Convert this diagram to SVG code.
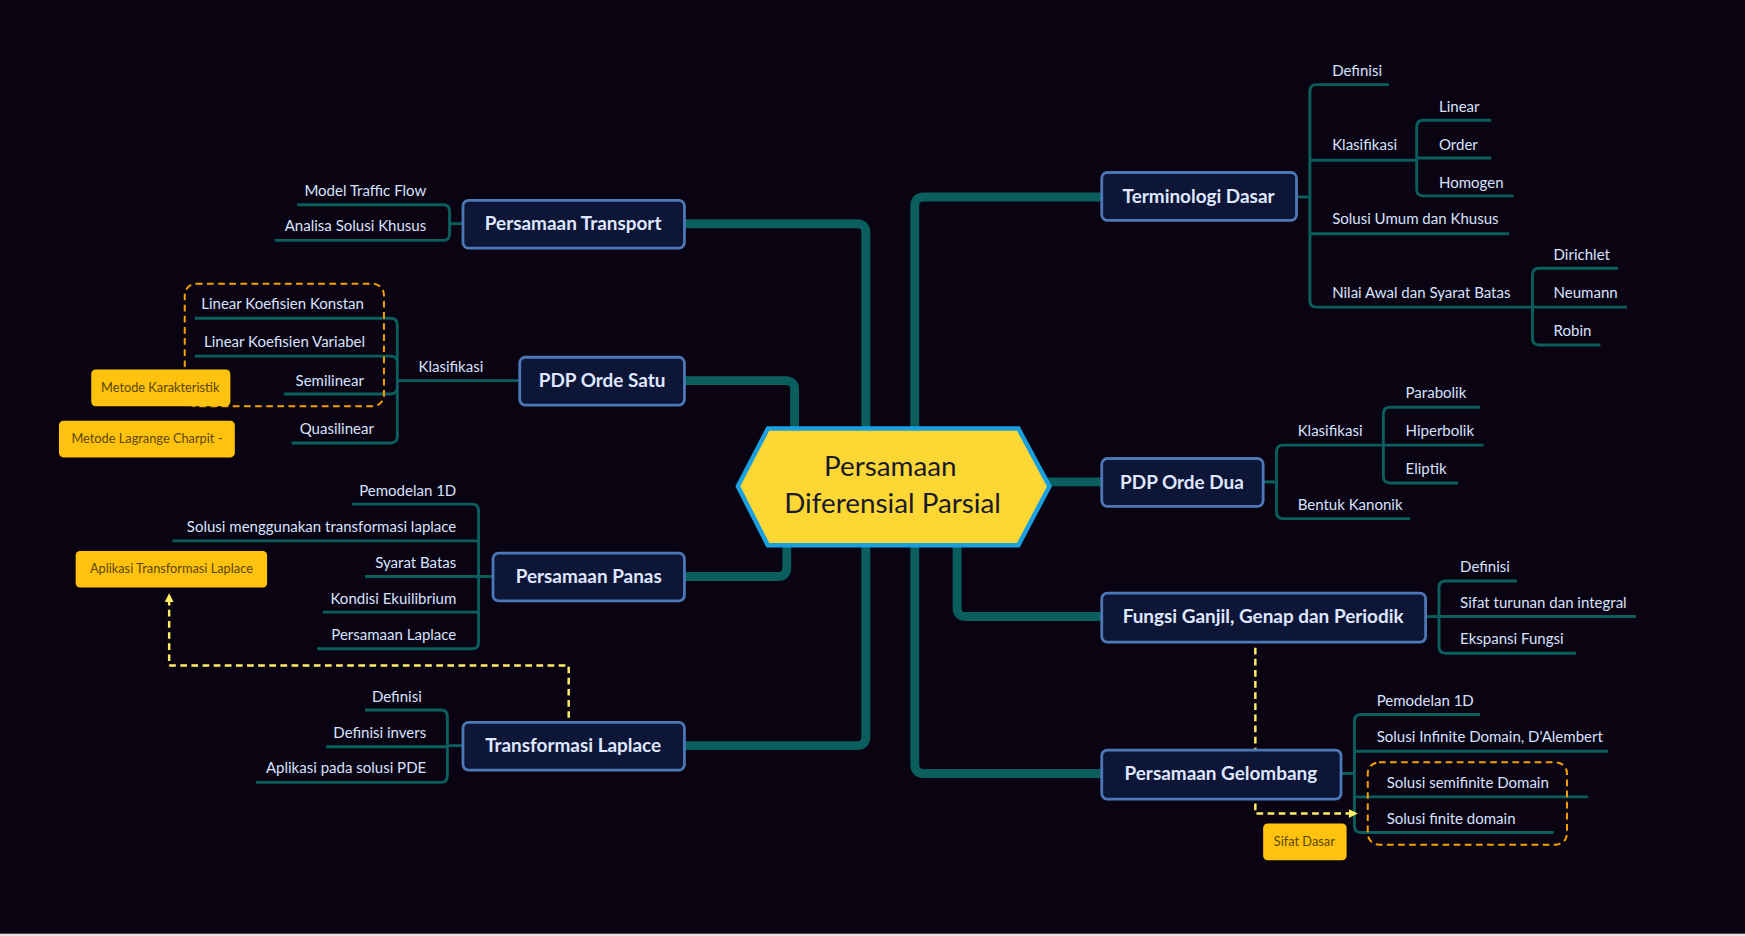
<svg xmlns="http://www.w3.org/2000/svg" width="1745" height="936" viewBox="0 0 1745 936">
<style>
.trunk{fill:none;stroke:#0b5e5e;stroke-width:8}
.br{fill:none;stroke:#0b5e5e;stroke-width:2.6}
.node{fill:#0e1638;stroke:#4d78b8;stroke-width:2.5}
.nt{font-family:Lato,"Open Sans",sans-serif;font-size:17px;font-weight:bold;fill:#dfe7ff;text-anchor:middle}
.t{font-family:Lato,"Open Sans",sans-serif;font-size:13.5px;fill:#d8e2ff}
.e{text-anchor:end}
.note{fill:#ffc20e}
.nn{font-family:Lato,"Open Sans",sans-serif;font-size:11.5px;fill:#5a4600;text-anchor:middle}
.grp{fill:none;stroke:#f5a000;stroke-width:1.8;stroke-dasharray:6 4}
.rel{fill:none;stroke:#ffee66;stroke-width:2.2;stroke-dasharray:6 4}
</style>
<defs><marker id="ah" markerWidth="8" markerHeight="8" refX="6" refY="4" orient="auto" markerUnits="userSpaceOnUse"><path d="M0,0 L8,4 L0,8 Z" fill="#ffee66"/></marker></defs>
<rect width="1745" height="936" fill="#0a0412"/>
<g transform="scale(1.1129)">
<rect x="0" y="839" width="1568" height="3" fill="#e6e6e6"/>
<g id="connectors">
<path class="trunk" d="M615,201 H770 Q778,201 778,209 V390"/>
<path class="trunk" d="M615,670 H770 Q778,670 778,662 V485"/>
<path class="trunk" d="M615,342 H706 Q714,342 714,350 V390"/>
<path class="trunk" d="M615,518 H699 Q707,518 707,510 V485"/>
<path class="trunk" d="M990,177 H830 Q822,177 822,185 V390"/>
<path class="trunk" d="M990,695 H830 Q822,695 822,687 V485"/>
<path class="trunk" d="M990,554 H868 Q860,554 860,546 V485"/>
<path class="trunk" d="M940,433 H990"/>
<!-- Terminologi -->
<path class="br" d="M1165,177 H1177"/>
<path class="br" d="M1248,76 H1183 Q1177,76 1177,82 V270 Q1177,276 1183,276 H1377"/>
<path class="br" d="M1177,144 H1273 M1177,210 H1356"/>
<path class="br" d="M1340,108 H1279 Q1273,108 1273,114 V170 Q1273,176 1279,176 H1360 M1273,142 H1340"/>
<path class="br" d="M1454,241 H1383 Q1377,241 1377,247 V304 Q1377,310 1383,310 H1438 M1377,276 H1462"/>
<!-- Orde Dua -->
<path class="br" d="M1135,433 H1147"/>
<path class="br" d="M1243,400 H1153 Q1147,400 1147,406 V460 Q1147,466 1153,466 H1267"/>
<path class="br" d="M1330,366 H1249 Q1243,366 1243,372 V428 Q1243,434 1249,434 H1310 M1243,400 H1333"/>
<!-- Fungsi -->
<path class="br" d="M1281,554 H1293"/>
<path class="br" d="M1363,522 H1299 Q1293,522 1293,528 V581 Q1293,587 1299,587 H1416 M1293,554 H1470"/>
<!-- Gelombang -->
<path class="br" d="M1205,695 H1217"/>
<path class="br" d="M1330,642 H1223 Q1217,642 1217,648 V742 Q1217,748 1223,748 H1396 M1217,675 H1445 M1217,716 H1427"/>
<!-- Transport -->
<path class="br" d="M416,201 H404"/>
<path class="br" d="M267,184 H398 Q404,184 404,190 V210 Q404,216 398,216 H247"/>
<!-- Orde Satu -->
<path class="br" d="M467,342 H357"/>
<path class="br" d="M175,286 H351 Q357,286 357,292 V392 Q357,398 351,398 H262 M175,320 H351 Q357,320 357,326 M255,354 H351 Q357,354 357,348"/>
<!-- Panas -->
<path class="br" d="M443,518 H430"/>
<path class="br" d="M316,453 H424 Q430,453 430,459 V577 Q430,583 424,583 H285 M155,486 H430 M328,518 H430 M290,550 H430"/>
<!-- Laplace -->
<path class="br" d="M416,670 H402"/>
<path class="br" d="M328,638 H396 Q402,638 402,644 V697 Q402,703 396,703 H230 M293,671 H402"/>
<!-- relations -->
<path class="rel" d="M1128,582 V731 H1218" marker-end="url(#ah)"/>
<path class="rel" d="M511,645 V598 H152 V535" marker-end="url(#ah)"/>
</g>
<rect class="grp" x="166" y="255" width="179" height="110" rx="10"/>
<rect class="grp" x="1229" y="685" width="179" height="74" rx="10"/>
<g id="center"><polygon points="663,437 690,385 915,385 943,437 915,490 690,490" fill="#fdd835" stroke="#1a9fe0" stroke-width="4"/>
<text x="800" y="428" font-family="Lato,sans-serif" font-size="25" fill="#1a1a2a" text-anchor="middle">Persamaan</text>
<text x="802" y="461" font-family="Lato,sans-serif" font-size="25" fill="#1a1a2a" text-anchor="middle">Diferensial Parsial</text></g>
<g id="n-transport"><rect class="node" x="416" y="180" width="199" height="43" rx="5"/><text class="nt" x="515" y="207">Persamaan Transport</text></g>
<g id="n-orde1"><rect class="node" x="467" y="321" width="148" height="43" rx="5"/><text class="nt" x="541" y="348">PDP Orde Satu</text></g>
<g id="n-panas"><rect class="node" x="443" y="497" width="172" height="43" rx="5"/><text class="nt" x="529" y="524">Persamaan Panas</text></g>
<g id="n-laplace"><rect class="node" x="416" y="649" width="199" height="43" rx="5"/><text class="nt" x="515" y="676">Transformasi Laplace</text></g>
<g id="n-term"><rect class="node" x="990" y="155" width="175" height="43" rx="5"/><text class="nt" x="1077" y="182">Terminologi Dasar</text></g>
<g id="n-orde2"><rect class="node" x="990" y="412" width="145" height="43" rx="5"/><text class="nt" x="1062" y="439">PDP Orde Dua</text></g>
<g id="n-fungsi"><rect class="node" x="990" y="533" width="291" height="44" rx="5"/><text class="nt" x="1135" y="560">Fungsi Ganjil, Genap dan Periodik</text></g>
<g id="n-gel"><rect class="node" x="990" y="674" width="215" height="44" rx="5"/><text class="nt" x="1097" y="701">Persamaan Gelombang</text></g>
<g id="labels">
<text class="t" x="1197" y="68">Definisi</text>
<text class="t" x="1197" y="135">Klasifikasi</text>
<text class="t" x="1293" y="101">Linear</text>
<text class="t" x="1293" y="135">Order</text>
<text class="t" x="1293" y="169">Homogen</text>
<text class="t" x="1197" y="201">Solusi Umum dan Khusus</text>
<text class="t" x="1197" y="268">Nilai Awal dan Syarat Batas</text>
<text class="t" x="1396" y="234">Dirichlet</text>
<text class="t" x="1396" y="268">Neumann</text>
<text class="t" x="1396" y="302">Robin</text>
<text class="t" x="1166" y="392">Klasifikasi</text>
<text class="t" x="1263" y="358">Parabolik</text>
<text class="t" x="1263" y="392">Hiperbolik</text>
<text class="t" x="1263" y="426">Eliptik</text>
<text class="t" x="1166" y="458">Bentuk Kanonik</text>
<text class="t" x="1312" y="514">Definisi</text>
<text class="t" x="1312" y="546">Sifat turunan dan integral</text>
<text class="t" x="1312" y="579">Ekspansi Fungsi</text>
<text class="t" x="1237" y="634">Pemodelan 1D</text>
<text class="t" x="1237" y="667">Solusi Infinite Domain, D'Alembert</text>
<text class="t" x="1246" y="708">Solusi semifinite Domain</text>
<text class="t" x="1246" y="740">Solusi finite domain</text>
<text class="t e" x="383" y="176">Model Traffic Flow</text>
<text class="t e" x="383" y="208">Analisa Solusi Khusus</text>
<text class="t" x="376" y="334">Klasifikasi</text>
<text class="t e" x="327" y="278">Linear Koefisien Konstan</text>
<text class="t e" x="328" y="312">Linear Koefisien Variabel</text>
<text class="t e" x="327" y="347">Semilinear</text>
<text class="t e" x="336" y="390">Quasilinear</text>
<text class="t e" x="410" y="446">Pemodelan 1D</text>
<text class="t e" x="410" y="478">Solusi menggunakan transformasi laplace</text>
<text class="t e" x="410" y="510">Syarat Batas</text>
<text class="t e" x="410" y="543">Kondisi Ekuilibrium</text>
<text class="t e" x="410" y="575">Persamaan Laplace</text>
<text class="t e" x="379" y="631">Definisi</text>
<text class="t e" x="383" y="663">Definisi invers</text>
<text class="t e" x="383" y="695">Aplikasi pada solusi PDE</text>
</g>
<g id="note-karakteristik"><rect class="note" x="82" y="332" width="125" height="33" rx="4"/><text class="nn" x="144" y="352">Metode Karakteristik</text></g>
<g id="note-lagrange"><rect class="note" x="53" y="378" width="158" height="33" rx="4"/><text class="nn" x="132" y="398">Metode Lagrange Charpit -</text></g>
<g id="note-aplikasi"><rect class="note" x="68" y="495" width="172" height="33" rx="4"/><text class="nn" x="154" y="515">Aplikasi Transformasi Laplace</text></g>
<g id="note-sifat"><rect class="note" x="1135" y="740" width="75" height="33" rx="4"/><text class="nn" x="1172" y="760">Sifat Dasar</text></g>
</g>
</svg>
